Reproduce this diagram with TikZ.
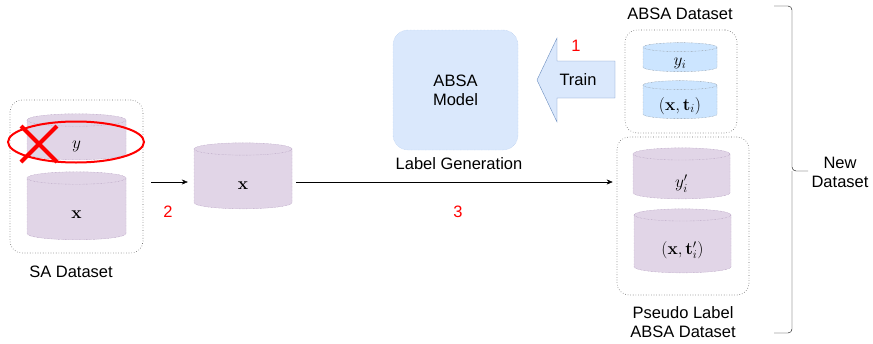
\documentclass[tikz,border=0pt]{standalone}
\usepackage{amsmath}
\usepackage{amssymb}
\usepackage[no-math]{fontspec}
\setmainfont{Liberation Sans}
\usetikzlibrary{shapes.geometric,arrows.meta}

\definecolor{purplefill}{HTML}{E1D5E7}
\definecolor{purpleline}{HTML}{A890B5}
\definecolor{bluefill}{HTML}{CCE5FF}
\definecolor{modelfill}{HTML}{DAE8FC}
\definecolor{modelline}{HTML}{A9C4EB}
\definecolor{arrowline}{HTML}{6C8EBF}

\begin{document}
\begin{tikzpicture}[x=1pt,y=-1pt,
    font=\fontsize{16.5}{19}\selectfont,
    box/.style={draw=black!60, dotted, line width=0.6pt, rounded corners=12pt, minimum width=#1},
    cyl/.style={cylinder, shape border rotate=90, aspect=0.14, draw=purpleline,
        densely dotted, fill=purplefill, cylinder uses custom fill,
        cylinder body fill=purplefill, cylinder end fill=purplefill, inner sep=0pt,
        minimum width=#1, text width=#1-10pt, align=center},
    bcyl/.style={cyl=#1, draw=gray, fill=bluefill, cylinder body fill=bluefill,
        cylinder end fill=bluefill},
    ctext/.style={yshift=-#1, inner sep=0pt},
    num/.style={text=red},
    arr/.style={-{Stealth[length=6pt,width=5pt]}, thin}]
    \useasboundingbox (0,0) rectangle (873,343);

    % SA dataset
    \node[box=133pt, minimum height=153pt] (sabox) at (76.5,176.5) {};
    \node[cyl=99pt, minimum height=46pt, label={[ctext=6pt]center:$y$}] (ycyl) at (76.5,140) {};
    \node[cyl=99pt, minimum height=68pt, label={[ctext=6pt]center:$\mathbf{x}$}] (xcyl) at (76.5,209) {};
    \node at (71,272) {SA Dataset};
    \draw[red, line width=2pt] (76,142) ellipse [x radius=68, y radius=20.5];
    \draw[red, line width=4pt] (21,126) -- (57,162) (21,162) -- (57,126);

    % input only
    \node[cyl=98pt, minimum height=66pt, label={[ctext=7pt]center:$\mathbf{x}$}] (midx) at (243,179) {};
    \node[num] (two) at (168,212) {2};

    % model
    \node[draw=modelline, densely dotted, fill=modelfill, rounded corners=15pt,
        minimum width=125pt, minimum height=120pt, align=center] (model) at (455.5,90) {ABSA\\Model};
    \node (gen) at (459,164) {Label Generation};
    \node[num] (three) at (458,212) {3};

    % ABSA dataset
    \node[box=112pt, minimum height=103pt] (topbox) at (681,81.5) {};
    \node[bcyl=74pt, minimum height=29pt, label={[ctext=4pt]center:$y_i$}] (yi) at (680,59.5) {};
    \node[bcyl=74pt, minimum height=38pt, label={[ctext=4pt]center:$(\mathbf{x},\mathbf{t}_i)$}] (xti) at (680,102) {};
    \node (absa) at (680,14) {ABSA Dataset};

    % train arrow
    \draw[arrowline, fill=modelfill] (615,61) -- (557,61) -- (557,38) -- (537,80)
        -- (557,122) -- (557,98) -- (615,98) -- cycle;
    \node (train) at (578,80) {Train};
    \node[num] (one) at (576,46) {1};

    % pseudo label dataset
    \node[box=132pt, minimum height=158pt] (pseudobox) at (683,216) {};
    \node[cyl=97pt, minimum height=51pt, label={[ctext=7pt]center:$y_i'$}] (yip) at (681.5,176.5) {};
    \node[cyl=97pt, minimum height=64pt, label={[ctext=6pt]center:$(\mathbf{x},\mathbf{t}_i')$}] (xtip) at (682.5,244) {};
    \node[align=center] (pseudo) at (683,322) {Pseudo Label\\ABSA Dataset};

    \draw[arr] ([xshift=8pt]sabox.east |- 0,182) -- ([xshift=-6pt]midx.west |- 0,182);
    \draw[arr] ([xshift=4pt]midx.east |- 0,182) -- ([xshift=-4pt]pseudobox.west |- 0,182);

    % brace
    \draw[rounded corners=4pt] (774,6) -- (792,6) -- (792,171) -- (808,171);
    \draw[rounded corners=4pt] (774,333) -- (792,333) -- (792,171);
    \node[align=center] (newdata) at (840,172) {New\\Dataset};
\end{tikzpicture}
\end{document}
